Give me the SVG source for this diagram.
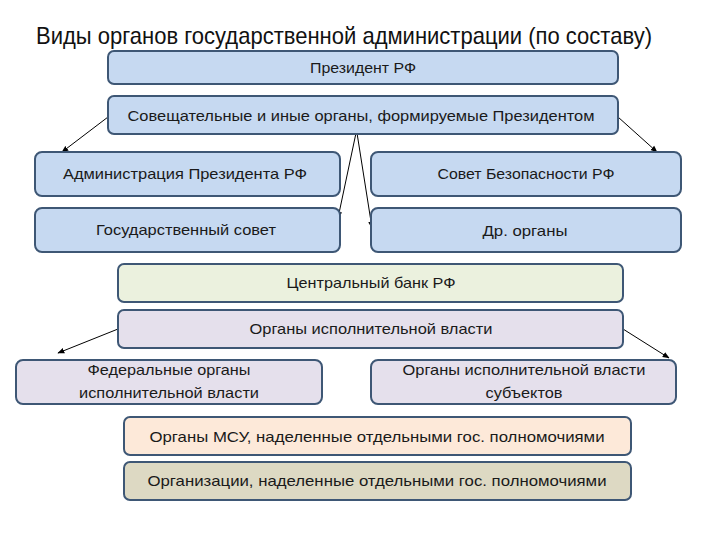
<svg xmlns="http://www.w3.org/2000/svg" width="720" height="540" viewBox="0 0 720 540">
<defs>
<marker id="ah" viewBox="0 0 10 10" refX="9" refY="5" markerWidth="7" markerHeight="7" orient="auto" markerUnits="userSpaceOnUse">
<path d="M0,1 L10,5 L0,9 z" fill="#000"/>
</marker>
<style>
.box{stroke:#3e5775;stroke-width:2}
.blue{fill:#c6d9f1}
.green{fill:#ebf1de}
.lav{fill:#e5e0ec}
.peach{fill:#fde9d9}
.khaki{fill:#ddd9c3}
.t{font-family:"Liberation Sans",Arial,sans-serif;font-size:15px;fill:#1a1a1a;text-anchor:middle}
.title{font-family:"Liberation Sans",Arial,sans-serif;font-size:24px;fill:#111}
.c{stroke:#000;stroke-width:1;fill:none;marker-end:url(#ah)}
</style>
</defs>
<rect width="720" height="540" fill="#fff"/>
<text class="title" x="36" y="44" textLength="616" lengthAdjust="spacingAndGlyphs">Виды органов государственной администрации (по составу)</text>

<g id="connectors">
<line class="c" x1="108" y1="117" x2="62" y2="152"/>
<line class="c" x1="618" y1="117" x2="657" y2="152"/>
<line class="c" x1="356" y1="133" x2="338" y2="218"/>
<line class="c" x1="357" y1="133" x2="372" y2="228"/>
<line class="c" x1="118" y1="329" x2="58" y2="353"/>
<line class="c" x1="623" y1="329" x2="669" y2="358"/>
</g>

<g id="president">
<rect class="box blue" x="108" y="51" width="510" height="33" rx="6"/>
<text class="t" x="363" y="73" textLength="106" lengthAdjust="spacingAndGlyphs">Президент РФ</text>
</g>
<g id="consult">
<rect class="box blue" x="108" y="96" width="510" height="38" rx="6"/>
<text class="t" x="361" y="121" textLength="467" lengthAdjust="spacingAndGlyphs">Совещательные и иные органы, формируемые Президентом</text>
</g>
<g id="admin">
<rect class="box blue" x="35" y="152" width="305" height="44" rx="7"/>
<text class="t" x="185" y="179" textLength="244" lengthAdjust="spacingAndGlyphs">Администрация Президента РФ</text>
</g>
<g id="gossovet">
<rect class="box blue" x="35" y="208" width="305" height="44" rx="7"/>
<text class="t" x="186" y="235" textLength="180" lengthAdjust="spacingAndGlyphs">Государственный совет</text>
</g>
<g id="security">
<rect class="box blue" x="371" y="152" width="310" height="44" rx="7"/>
<text class="t" x="526" y="179" textLength="177" lengthAdjust="spacingAndGlyphs">Совет Безопасности РФ</text>
</g>
<g id="other">
<rect class="box blue" x="371" y="208" width="310" height="44" rx="7"/>
<text class="t" x="525" y="236" textLength="85" lengthAdjust="spacingAndGlyphs">Др. органы</text>
</g>
<g id="cb">
<rect class="box green" x="118" y="264" width="505" height="38" rx="6"/>
<text class="t" x="371" y="288" textLength="169" lengthAdjust="spacingAndGlyphs">Центральный банк РФ</text>
</g>
<g id="exec">
<rect class="box lav" x="118" y="310" width="505" height="38" rx="6"/>
<text class="t" x="371" y="334" textLength="243" lengthAdjust="spacingAndGlyphs">Органы исполнительной власти</text>
</g>
<g id="federal">
<rect class="box lav" x="16" y="360" width="306" height="44" rx="7"/>
<text class="t" x="169" y="375" textLength="163" lengthAdjust="spacingAndGlyphs">Федеральные органы</text>
<text class="t" x="169" y="398" textLength="180" lengthAdjust="spacingAndGlyphs">исполнительной власти</text>
</g>
<g id="subjects">
<rect class="box lav" x="371" y="360" width="305" height="44" rx="7"/>
<text class="t" x="524" y="375" textLength="243" lengthAdjust="spacingAndGlyphs">Органы исполнительной власти</text>
<text class="t" x="524" y="398" textLength="77" lengthAdjust="spacingAndGlyphs">субъектов</text>
</g>
<g id="msu">
<rect class="box peach" x="124" y="417" width="507" height="38" rx="6"/>
<text class="t" x="377" y="442" textLength="455" lengthAdjust="spacingAndGlyphs">Органы МСУ, наделенные отдельными гос. полномочиями</text>
</g>
<g id="orgs">
<rect class="box khaki" x="124" y="462" width="507" height="38" rx="6"/>
<text class="t" x="377" y="486" textLength="459" lengthAdjust="spacingAndGlyphs">Организации, наделенные отдельными гос. полномочиями</text>
</g>
</svg>
